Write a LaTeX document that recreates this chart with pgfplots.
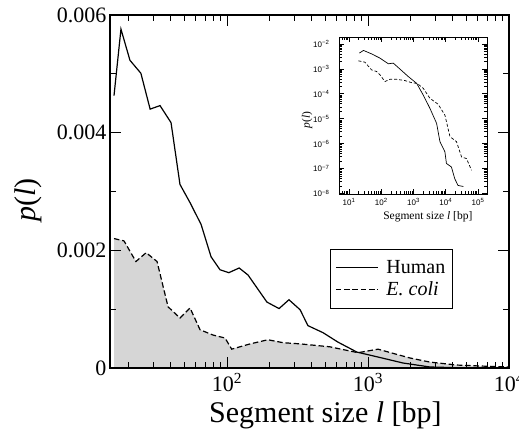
\documentclass[border=0pt]{standalone}
\usepackage{fontspec}
\setmainfont{Liberation Serif}
\newfontfamily\insetfont{Liberation Sans}
\usepackage{pgfplots}
\pgfplotsset{compat=1.18}
\usepackage{pgfplotstable}

\pgfplotstableread{
x y
15.8 4.63e-3
17.7 5.76e-3
20.5 5.23e-3
24.5 5.01e-3
28.5 4.40e-3
33.5 4.46e-3
40.1 4.17e-3
46.4 3.12e-3
54.7 2.81e-3
65.5 2.44e-3
77.1 1.89e-3
89.2 1.67e-3
103 1.62e-3
122 1.70e-3
141 1.58e-3
192 1.12e-3
234 1.01e-3
275 1.16e-3
330 0.99e-3
375 0.72e-3
480 0.60e-3
612 0.44e-3
835 0.27e-3
1160 0.19e-3
1770 0.085e-3
2750 0.017e-3
4500 0.004e-3
8000 0.001e-3
}\humanmain

\pgfplotstableread{
x y
15.8 2.20e-3
18.6 2.16e-3
22.6 1.81e-3
26.7 1.96e-3
31.9 1.81e-3
38.2 1.04e-3
46.4 0.85e-3
54.7 1.02e-3
64.4 0.65e-3
79.6 0.56e-3
96.8 0.51e-3
108 0.32e-3
146 0.41e-3
195 0.48e-3
250 0.43e-3
330 0.41e-3
537 0.36e-3
849 0.26e-3
1178 0.32e-3
1553 0.24e-3
1985 0.17e-3
2755 0.10e-3
4275 0.05e-3
6220 0.034e-3
10000 0.017e-3
}\ecolimain

\pgfplotstableread{
x y
21 4.3e-3
28 5.5e-3
50 4.0e-3
91 2.7e-3
166 1.6e-3
236 1.7e-3
380 9.8e-4
690 4.9e-4
1260 2.6e-4
2000 8.9e-5
3230 2.6e-5
5200 6.5e-6
6600 1.2e-6
9400 4.7e-7
10500 1.6e-7
15000 1.15e-7
19000 3.9e-8
24000 2.1e-8
35000 1.9e-8
}\humaninset

\pgfplotstableread{
x y
19.5 2.1e-3
31 1.86e-3
50 9.1e-4
72 7.8e-4
91 5.8e-4
130 3.1e-4
186 3.8e-4
300 3.8e-4
540 3.4e-4
870 2.8e-4
1300 2.6e-4
2000 1.66e-4
3230 6.6e-5
5800 3.8e-5
9400 1.4e-5
13500 1.9e-6
21500 1.2e-6
31000 2.9e-7
44000 2.5e-7
63000 8.5e-8
}\ecoliinset

\begin{document}
\begin{tikzpicture}
\begin{axis}[
  name=main,
  scale only axis, width=399pt, height=353pt,
  xmode=log, xmin=14.8, xmax=10000, ymin=0, ymax=0.006,
  axis on top,
  xtick={100,1000,10000},
  xticklabels={10\textsuperscript{2},10\textsuperscript{3},10\textsuperscript{4}},
  minor xtick={20,30,40,50,60,70,80,90,200,300,400,500,600,700,800,900,2000,3000,4000,5000,6000,7000,8000,9000},
  ytick={0,0.002,0.004,0.006},
  yticklabels={0,0.002,0.004,0.006},
  minor ytick={0.001,0.003,0.005},
  scaled y ticks=false,
  tick align=inside,
  major tick length=11pt, minor tick length=6pt,
  every tick/.style={black, line width=1pt},
  every minor tick/.style={black, line width=1pt},
  axis line style={line width=1.3pt},
  ticklabel style={font=\fontsize{22}{26}\selectfont},
  xticklabel style={yshift=-2pt},
  xlabel={Segment size \textit{l} [bp]},
  ylabel={\textit{p}(\textit{l})},
  label style={font=\fontsize{30}{34}\selectfont},
  xlabel style={at={(axis description cs:0.54,-0.153)}, anchor=base},
  ylabel style={at={(axis description cs:-0.205,0.475)}, anchor=center},
  legend style={at={(0.551,0.337)}, anchor=north west, draw=black, line width=0.8pt,
    font=\fontsize{20}{24}\selectfont, inner xsep=5pt, inner ysep=9pt,
    column sep=6pt, row sep=3pt,
    cells={anchor=west}},
  legend image code/.code={\draw[#1] (0pt,0pt) -- (42pt,0pt);},
]
\addplot[fill=black!16, draw=none, forget plot] table {\ecolimain} \closedcycle;
\addplot[black, line width=1.2pt] table {\humanmain};
\addlegendentry{Human}
\addplot[black, line width=1.2pt, dash pattern=on 5.5pt off 2.8pt] table {\ecolimain};
\addlegendentry{\textit{E. coli}}
\end{axis}

\begin{axis}[
  at={(229pt,174pt)}, anchor=south west,
  scale only axis, width=148pt, height=157pt,
  xmode=log, ymode=log, xmin=4.9, xmax=1.9e5, ymin=0.95e-8, ymax=1.9e-2,
  xtick={10,100,1000,10000,100000},
  xticklabels={10\textsuperscript{1},10\textsuperscript{2},10\textsuperscript{3},10\textsuperscript{4},10\textsuperscript{5}},
  minor xtick={5,6,7,8,9,20,30,40,50,60,70,80,90,200,300,400,500,600,700,800,900,2000,3000,4000,5000,6000,7000,8000,9000,20000,30000,40000,50000,60000,70000,80000,90000},
  ytick={1e-8,1e-7,1e-6,1e-5,1e-4,1e-3,1e-2},
  yticklabels={10\textsuperscript{−8},10\textsuperscript{−7},10\textsuperscript{−6},10\textsuperscript{−5},10\textsuperscript{−4},10\textsuperscript{−3},10\textsuperscript{−2}},
  minor ytick={2e-8,3e-8,4e-8,5e-8,6e-8,7e-8,8e-8,9e-8,2e-7,3e-7,4e-7,5e-7,6e-7,7e-7,8e-7,9e-7,2e-6,3e-6,4e-6,5e-6,6e-6,7e-6,8e-6,9e-6,2e-5,3e-5,4e-5,5e-5,6e-5,7e-5,8e-5,9e-5,2e-4,3e-4,4e-4,5e-4,6e-4,7e-4,8e-4,9e-4,2e-3,3e-3,4e-3,5e-3,6e-3,7e-3,8e-3,9e-3},
  tick align=inside,
  major tick length=5pt, minor tick length=3pt,
  every tick/.style={black, line width=0.6pt},
  every minor tick/.style={black, line width=0.5pt},
  axis line style={line width=0.8pt},
  ticklabel style={font=\insetfont\fontsize{8}{9}\selectfont},
  yticklabel style={xshift=-6pt},
  xticklabel style={yshift=-1pt},
  xlabel={Segment size \textit{l} [bp]},
  ylabel={\textit{p}(\textit{l})},
  label style={font=\fontsize{11.5}{13}\selectfont},
  xlabel style={at={(axis description cs:0.6,-0.146)}, anchor=center},
  ylabel style={at={(axis description cs:-0.216,0.47)}, anchor=center},
]
\addplot[black, line width=0.7pt] table {\humaninset};
\addplot[black, line width=0.7pt, dash pattern=on 3pt off 2pt] table {\ecoliinset};
\end{axis}
\pgfresetboundingbox
\path (-110pt,-62pt) rectangle (409pt,368pt);
\end{tikzpicture}
\end{document}
